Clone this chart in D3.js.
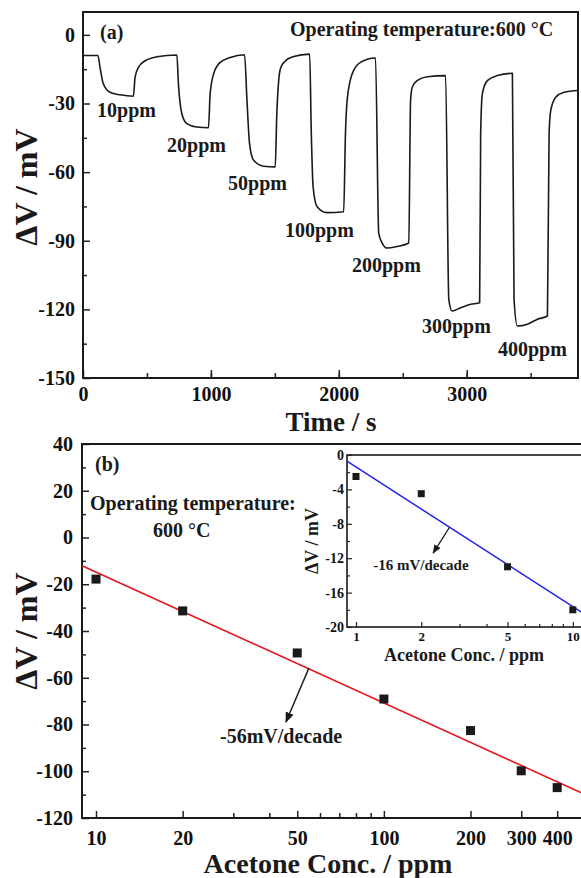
<!DOCTYPE html>
<html>
<head>
<meta charset="utf-8">
<script src="https://cdn.jsdelivr.net/npm/d3@7/dist/d3.min.js"></script>
<style>
  html, body { margin: 0; padding: 0; background: #fff; }
  svg { display: block; font-family: "Liberation Serif", "Times New Roman", serif; font-weight: bold; }
  .tick line { stroke: #222; stroke-width: 1.5; }
  .tick text { fill: #111; font-family: "Liberation Serif", "Times New Roman", serif; font-weight: bold; }
</style>
</head>
<body>
<svg id="chart" width="581" height="878"></svg>
<script>
// ---- (a) transient response at 600 °C ----
const timeS = [
  0, 117, 133, 159, 211, 290, 394,
  407, 433, 486, 577, 734,
  746, 773, 812, 890, 981,
  994, 1021, 1073, 1151, 1263,
  1282, 1302, 1334, 1412, 1503,
  1515, 1530, 1545, 1580, 1640, 1772,
  1785, 1799, 1830, 1908, 2038,
  2052, 2065, 2104, 2169, 2287,
  2312, 2339, 2378, 2456, 2547,
  2561, 2574, 2612, 2691, 2835,
  2860, 2886, 2952, 3031, 3101,
  3109, 3122, 3161, 3239, 3357,
  3370, 3396, 3474, 3553, 3631,
  3644, 3657, 3696, 3761, 3870
];
const deltaV = [
  -9, -9, -14.2, -21.4, -25.1, -26.2, -26.8,
  -18.6, -14.2, -11.3, -9.6, -8.8,
  -21.4, -34.5, -38.8, -40.3, -40.6,
  -25.8, -17.1, -12, -9.9, -8.7,
  -28.7, -47.5, -54.8, -57.4, -57.7,
  -35, -20, -14.5, -11.5, -9.6, -8.4,
  -43.2, -66.4, -75.1, -77.7, -77.3,
  -43.2, -28.7, -17.1, -12, -10.1,
  -86.7, -91, -93.2, -92.5, -91,
  -28.7, -22.9, -20, -18.3, -17.8,
  -115.7, -120.7, -119.3, -117.8, -117.1,
  -43.2, -25.8, -20, -17.8, -16.8,
  -115.7, -127.3, -126.5, -124.3, -122.9,
  -43.2, -33, -27.3, -25.1, -24.3
];
const ppmLabels = ['10ppm', '20ppm', '50ppm', '100ppm', '200ppm', '300ppm', '400ppm'];
const ppmLabelTime = [110, 657, 1134, 1579, 2103, 2650, 3244];
const ppmLabelV = [-35.9, -51.2, -67.8, -88.4, -103.7, -130.3, -140.4];
const timeTicks = [0, 1000, 2000, 3000];
const vTicksA = [-150, -120, -90, -60, -30, 0];

// ---- (b) response vs concentration ----
const concB = [10, 20, 50, 100, 200, 300, 400];
const dvB = [-17.8, -31.4, -49.4, -69.1, -82.6, -99.8, -107.0];
const fitSlopeB = -56, fitInterceptB = 41.2;
const concTicksB = [10, 20, 50, 100, 200, 300, 400];
const concMinorB = [30, 40, 60, 70, 80, 90];
const vTicksB = [-120, -100, -80, -60, -40, -20, 0, 20, 40];

// ---- inset (1-10 ppm) ----
const concIn = [1, 2, 5, 10];
const dvIn = [-2.5, -4.5, -13.0, -18.0];
const fitSlopeIn = -16.25, fitInterceptIn = -1.39;
const concTicksIn = [1, 2, 5, 10];
const concMinorIn = [3, 4, 6, 7, 8, 9];
const vTicksIn = [-20, -16, -12, -8, -4, 0];

const svg = d3.select('#chart');
const ink = '#1a1a1a';

const defs = svg.append('defs');
defs.append('marker')
  .attr('id', 'arrow')
  .attr('viewBox', '0 0 10 10')
  .attr('refX', 9).attr('refY', 5)
  .attr('markerWidth', 7).attr('markerHeight', 7)
  .attr('orient', 'auto')
  .append('path')
  .attr('d', 'M0,1 L10,5 L0,9 Z')
  .attr('fill', ink);

// drop d3's default sans-serif on axis groups, keep the figure's serif bold
function styleAxis(g, size) {
  g.select('.domain').remove();
  g.attr('font-family', null).attr('font-size', size);
  g.selectAll('text').style('font-size', size + 'px');
}
const plain = d => String(d);

// ================= panel (a) =================
const xA = d3.scaleLinear().domain([0, 3870]).range([83, 578]);
const yA = d3.scaleLinear().domain([-150, 10]).range([378, 12]);

const gA = svg.append('g');

gA.append('g').attr('transform', `translate(0,${yA(-150)})`)
  .call(d3.axisBottom(xA).tickValues(d3.range(500, 3870, 500)).tickSize(-5).tickFormat(''))
  .call(g => g.select('.domain').remove());
gA.append('g').attr('transform', `translate(0,${yA(-150)})`)
  .call(d3.axisBottom(xA).tickValues(timeTicks).tickSize(-8).tickPadding(9).tickFormat(plain))
  .call(g => styleAxis(g, 20));
gA.append('g').attr('transform', `translate(${xA(0)},0)`)
  .call(d3.axisLeft(yA).tickValues(d3.range(-135, 10, 30)).tickSize(-4).tickFormat(''))
  .call(g => g.select('.domain').remove());
gA.append('g').attr('transform', `translate(${xA(0)},0)`)
  .call(d3.axisLeft(yA).tickValues(vTicksA).tickSize(-7).tickPadding(8).tickFormat(plain))
  .call(g => styleAxis(g, 20));

gA.append('rect')
  .attr('x', xA(0)).attr('y', yA(10))
  .attr('width', xA(3870) - xA(0)).attr('height', yA(-150) - yA(10))
  .attr('fill', 'none').attr('stroke', ink).attr('stroke-width', 2);

const curveA = d3.line()
  .x((d, i) => xA(timeS[i]))
  .y(d => yA(d))
  .curve(d3.curveMonotoneX);

gA.append('path')
  .attr('d', curveA(deltaV))
  .attr('fill', 'none').attr('stroke', ink).attr('stroke-width', 1.6)
  .attr('stroke-linejoin', 'round');

gA.selectAll('.ppm')
  .data(ppmLabels)
  .join('text')
  .attr('class', 'ppm')
  .attr('x', (d, i) => xA(ppmLabelTime[i]))
  .attr('y', (d, i) => yA(ppmLabelV[i]))
  .attr('font-size', 20).attr('fill', ink)
  .text(d => d);

gA.append('text').attr('x', 100).attr('y', 39).attr('font-size', 20).attr('fill', ink).text('(a)');
gA.append('text').attr('x', 290).attr('y', 36).attr('font-size', 20).attr('fill', ink)
  .text('Operating temperature:600 °C');

gA.append('text').attr('x', 331).attr('y', 431).attr('text-anchor', 'middle')
  .attr('font-size', 27).attr('fill', ink).text('Time / s');
gA.append('text').attr('transform', 'translate(37,187) rotate(-90)').attr('text-anchor', 'middle')
  .attr('font-size', 32).attr('fill', ink).text('ΔV / mV');

// ================= panel (b) =================
const xB = d3.scaleLog().domain([8.94, 520]).range([82, 590]);
const yB = d3.scaleLinear().domain([-120, 40]).range([818, 444]);

const gB = svg.append('g');

gB.append('g').attr('transform', `translate(0,${yB(-120)})`)
  .call(d3.axisBottom(xB).tickValues(concMinorB).tickSize(-5).tickFormat(''))
  .call(g => g.select('.domain').remove());
gB.append('g').attr('transform', `translate(0,${yB(-120)})`)
  .call(d3.axisBottom(xB).tickValues(concTicksB).tickSize(-7).tickPadding(13).tickFormat(plain))
  .call(g => styleAxis(g, 20));
gB.append('g').attr('transform', `translate(${xB(8.94)},0)`)
  .call(d3.axisLeft(yB).tickValues(d3.range(-110, 40, 20)).tickSize(-4).tickFormat(''))
  .call(g => g.select('.domain').remove());
gB.append('g').attr('transform', `translate(${xB(8.94)},0)`)
  .call(d3.axisLeft(yB).tickValues(vTicksB).tickSize(-7).tickPadding(9).tickFormat(plain))
  .call(g => styleAxis(g, 20));

gB.append('rect')
  .attr('x', xB(8.94)).attr('y', yB(40))
  .attr('width', xB(520) - xB(8.94)).attr('height', yB(-120) - yB(40))
  .attr('fill', 'none').attr('stroke', ink).attr('stroke-width', 2);

const fitDomainB = [8.94, 520];
gB.append('line')
  .attr('x1', xB(fitDomainB[0])).attr('y1', yB(fitInterceptB + fitSlopeB * Math.log10(fitDomainB[0])))
  .attr('x2', xB(fitDomainB[1])).attr('y2', yB(fitInterceptB + fitSlopeB * Math.log10(fitDomainB[1])))
  .attr('stroke', '#e3161b').attr('stroke-width', 1.6);

gB.selectAll('.ptB')
  .data(concB)
  .join('rect')
  .attr('class', 'ptB')
  .attr('x', d => xB(d) - 4.5)
  .attr('y', (d, i) => yB(dvB[i]) - 4.5)
  .attr('width', 9).attr('height', 9)
  .attr('fill', ink);

// slope annotation (b)
gB.append('line')
  .attr('x1', xB(54.9)).attr('y1', yB(-55.8))
  .attr('x2', xB(45.7)).attr('y2', yB(-78.9))
  .attr('stroke', ink).attr('stroke-width', 1.5)
  .attr('marker-end', 'url(#arrow)');
gB.append('text').attr('x', xB(26.96)).attr('y', yB(-87.9)).attr('font-size', 20).attr('fill', ink)
  .text('-56mV/decade');

gB.append('text').attr('x', 95).attr('y', 471).attr('font-size', 20).attr('fill', ink).text('(b)');
gB.append('text').attr('x', 90).attr('y', 510).attr('font-size', 20).attr('fill', ink).text('Operating temperature:');
gB.append('text').attr('x', 153).attr('y', 537).attr('font-size', 20).attr('fill', ink).text('600 °C');

gB.append('text').attr('x', 328).attr('y', 873).attr('text-anchor', 'middle')
  .attr('font-size', 28).attr('fill', ink).text('Acetone Conc. / ppm');
gB.append('text').attr('transform', 'translate(37,631) rotate(-90)').attr('text-anchor', 'middle')
  .attr('font-size', 32).attr('fill', ink).text('ΔV / mV');

// ================= inset =================
const xIn = d3.scaleLog().domain([0.909, 12]).range([347, 590]);
const yIn = d3.scaleLinear().domain([-20, 0]).range([627, 455]);

const gIn = svg.append('g');

gIn.append('rect')
  .attr('x', xIn(0.909)).attr('y', yIn(0))
  .attr('width', xIn(12) - xIn(0.909)).attr('height', yIn(-20) - yIn(0))
  .attr('fill', '#fff').attr('stroke', ink).attr('stroke-width', 1.6);

gIn.append('g').attr('transform', `translate(0,${yIn(-20)})`)
  .call(d3.axisBottom(xIn).tickValues(concMinorIn).tickSize(-3).tickFormat(''))
  .call(g => g.select('.domain').remove());
gIn.append('g').attr('transform', `translate(0,${yIn(-20)})`)
  .call(d3.axisBottom(xIn).tickValues(concTicksIn).tickSize(-5).tickPadding(5).tickFormat(plain))
  .call(g => styleAxis(g, 13));
gIn.append('g').attr('transform', `translate(${xIn(0.909)},0)`)
  .call(d3.axisLeft(yIn).tickValues(d3.range(-18, 0, 4)).tickSize(-3).tickFormat(''))
  .call(g => g.select('.domain').remove());
gIn.append('g').attr('transform', `translate(${xIn(0.909)},0)`)
  .call(d3.axisLeft(yIn).tickValues(vTicksIn).tickSize(-5).tickPadding(3).tickFormat(plain))
  .call(g => styleAxis(g, 14));
gIn.selectAll('.tick line').style('stroke-width', 1.2);

const fitDomainIn = [0.909, 12];
gIn.append('line')
  .attr('x1', xIn(fitDomainIn[0])).attr('y1', yIn(fitInterceptIn + fitSlopeIn * Math.log10(fitDomainIn[0])))
  .attr('x2', xIn(fitDomainIn[1])).attr('y2', yIn(fitInterceptIn + fitSlopeIn * Math.log10(fitDomainIn[1])))
  .attr('stroke', '#2424f0').attr('stroke-width', 1.5);

gIn.selectAll('.ptIn')
  .data(concIn)
  .join('rect')
  .attr('class', 'ptIn')
  .attr('x', d => xIn(d) - 3.5)
  .attr('y', (d, i) => yIn(dvIn[i]) - 3.5)
  .attr('width', 7).attr('height', 7)
  .attr('fill', ink);

gIn.append('line')
  .attr('x1', xIn(2.70)).attr('y1', yIn(-8.4))
  .attr('x2', xIn(2.27)).attr('y2', yIn(-11.4))
  .attr('stroke', ink).attr('stroke-width', 1.3)
  .attr('marker-end', 'url(#arrow)');
gIn.append('text').attr('x', xIn(1.20)).attr('y', yIn(-13.37)).attr('font-size', 15).attr('fill', ink)
  .text('-16 mV/decade');

gIn.append('text').attr('x', 464).attr('y', 661).attr('text-anchor', 'middle')
  .attr('font-size', 18).attr('fill', ink).text('Acetone Conc. / ppm');
gIn.append('text').attr('transform', 'translate(318,541) rotate(-90)').attr('text-anchor', 'middle')
  .attr('font-size', 18).attr('fill', ink).text('ΔV / mV');
</script>
</body>
</html>
